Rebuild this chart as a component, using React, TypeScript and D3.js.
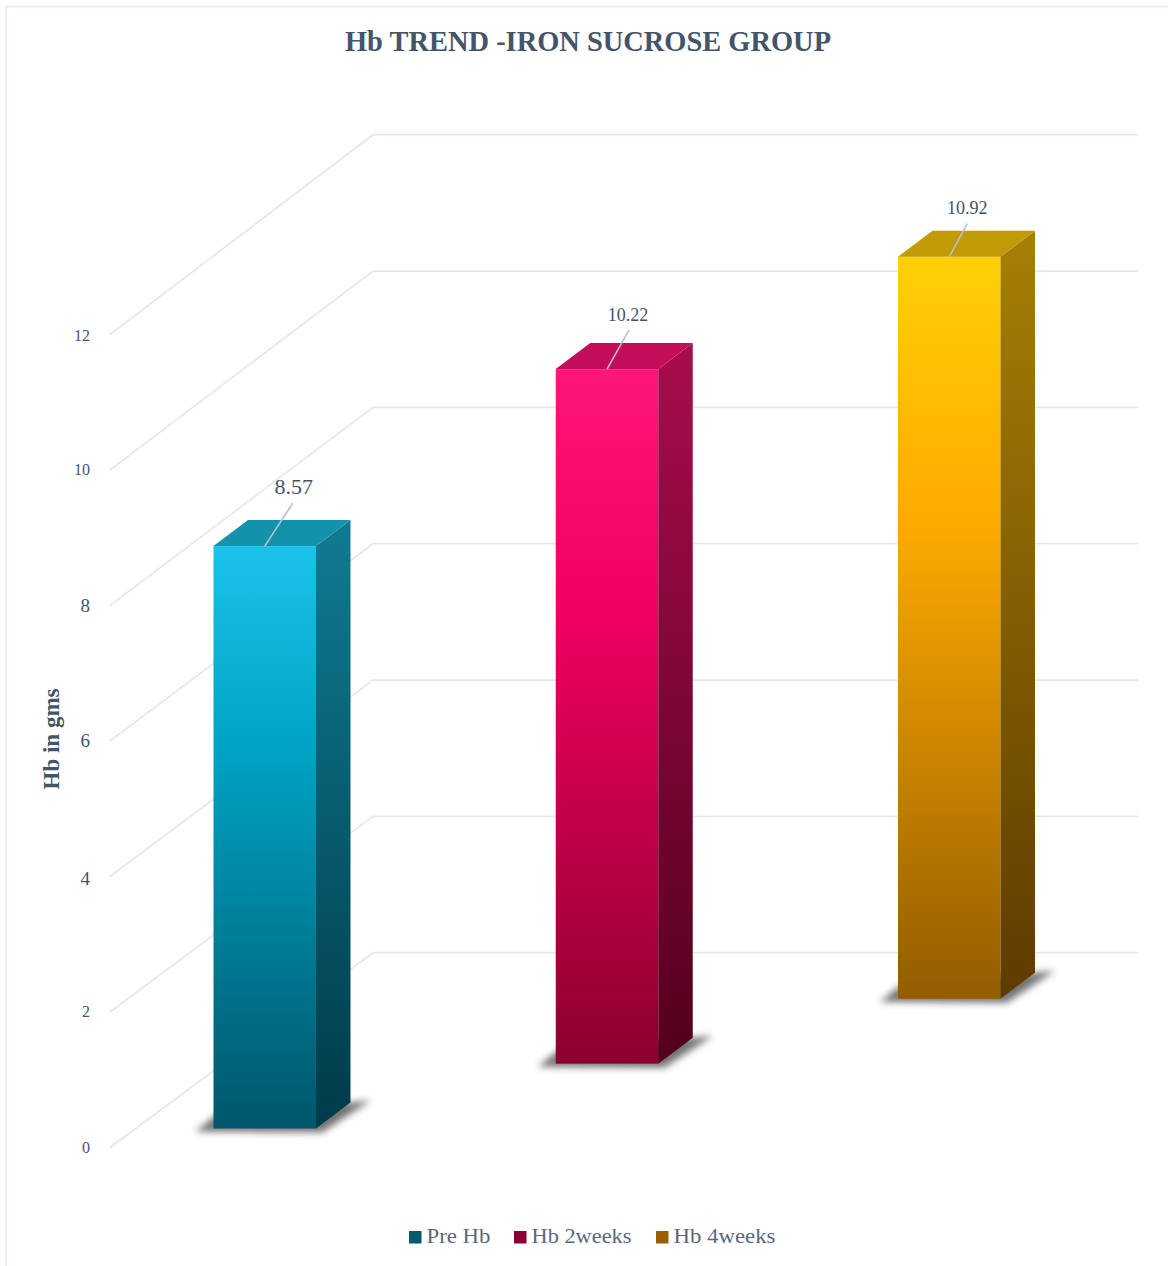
import React from "react";
import * as d3 from "d3";

const seriesNames = ["Pre Hb", "Hb 2weeks", "Hb 4weeks"];
const seriesValues = [8.57, 10.22, 10.92];
const valueLabels = ["8.57", "10.22", "10.92"];
const axisTicks = [0, 2, 4, 6, 8, 10, 12];
const legendColors = ["#005b6e", "#8a0030", "#996000"];
const frontStops = [
  ["#1bc2e8", "#00a3c4", "#00566a"],
  ["#ff1679", "#f00060", "#8c002f"],
  ["#ffd005", "#ffab00", "#945c00"],
];
const sideStops = [
  ["#107b92", "#003b49"],
  ["#a90c4e", "#52001e"],
  ["#a68006", "#5e3b00"],
];
const topColors = ["#1392ac", "#c40d59", "#c09b05"];

const FONT = "'Liberation Serif', serif";
const INK = "#44546a";
const DEPTH_X = 34.5;
const DEPTH_Y = -26;
const BAR_W = 102.5;

// Wall gridlines: front ends run down the left, back ends along the rear wall.
const frontY = d3.scaleLinear().domain([0, 12]).range([1147.5, 334.5]);
const backY = d3.scaleLinear().domain([0, 12]).range([952.7, 134.7]);
const barHeight = d3.scaleLinear().domain([0, 12]).range([0, 815.5]);
const barX = d3.scalePoint<string>().domain(seriesNames).range([213.5, 898]);
const barBase = d3.scalePoint<string>().domain(seriesNames).range([1128.5, 998.8]);

const tickLabelNudge: Record<number, number> = { 0: 0, 2: 0, 4: 3, 6: 1, 8: 1, 10: 0, 12: 1 };
const tickFontSize: Record<number, number> = { 0: 16, 2: 16, 4: 19, 6: 19, 8: 19, 10: 16, 12: 16 };
const labelStyle = [
  { size: 22, dx: 29, dy: -52, lx: 28, ly: -43 },
  { size: 18, dx: 21, dy: -48, lx: 22, ly: -39 },
  { size: 18, dx: 18, dy: -43, lx: 18, ly: -33 },
];
const legendX = [409, 514, 656];
const legendWidths = [64, 100, 102];

const poly = (pts: [number, number][]) => pts.map((p) => p.join(",")).join(" ");

export default function App() {
  return (
    <svg
      width={1168}
      height={1266}
      style={{ position: "absolute", left: 0, top: 0, background: "#fff" }}
      fontFamily={FONT}
    >
      <defs>
        <filter id="groundBlur" x="-30%" y="-80%" width="160%" height="260%">
          <feGaussianBlur stdDeviation="3.5" />
        </filter>
        {seriesNames.map((_, i) => (
          <React.Fragment key={i}>
            <linearGradient id={`front${i}`} x1="0" y1="0" x2="0" y2="1">
              <stop offset="0" stopColor={frontStops[i][0]} />
              <stop offset="0.35" stopColor={frontStops[i][1]} />
              <stop offset="1" stopColor={frontStops[i][2]} />
            </linearGradient>
            <linearGradient id={`side${i}`} x1="0" y1="0" x2="0" y2="1">
              <stop offset="0" stopColor={sideStops[i][0]} />
              <stop offset="1" stopColor={sideStops[i][1]} />
            </linearGradient>
          </React.Fragment>
        ))}
      </defs>

      <rect x={6} y={6.5} width={1200} height={1300} fill="#fff" stroke="#e4e7ed" strokeWidth={1.5} />

      <text x={588} y={51} textAnchor="middle" fontSize={30} fontWeight={700} fill={INK} textLength={486} lengthAdjust="spacingAndGlyphs">
        Hb TREND -IRON SUCROSE GROUP
      </text>

      {axisTicks.map((t) => (
        <g key={t}>
          <polyline
            points={poly([[110, frontY(t)], [373, backY(t)], [1138, backY(t)]])}
            fill="none"
            stroke="#e4e7ec"
            strokeWidth={1.7}
          />
          <text
            x={90}
            y={frontY(t) + tickLabelNudge[t] + 5}
            textAnchor="end"
            fontSize={tickFontSize[t]}
            fill={INK}
          >
            {t}
          </text>
        </g>
      ))}

      <text
        transform="translate(59,739) rotate(-90)"
        textAnchor="middle"
        fontSize={23}
        fontWeight={700}
        fill={INK}
      >
        Hb in gms
      </text>

      {seriesNames.map((name, i) => {
        const x = barX(name) as number;
        const base = barBase(name) as number;
        const top = base - barHeight(seriesValues[i]);
        const xr = x + BAR_W;
        const s = labelStyle[i];
        const cx = x + BAR_W / 2;
        return (
          <g key={name}>
            <polygon
              points={poly([
                [x - 18, base + 3],
                [x + 6, base - 16],
                [xr + DEPTH_X, base + DEPTH_Y],
                [xr + DEPTH_X + 20, base + DEPTH_Y - 2],
                [xr + 6, base + 4],
              ])}
              fill="#3c3c3c"
              opacity={0.72}
              filter="url(#groundBlur)"
            />
            <rect x={x} y={top} width={BAR_W} height={base - top} fill={`url(#front${i})`} />
            <polygon
              points={poly([[xr, top], [xr + DEPTH_X, top + DEPTH_Y], [xr + DEPTH_X, base + DEPTH_Y], [xr, base]])}
              fill={`url(#side${i})`}
            />
            <polygon
              points={poly([[x, top], [x + DEPTH_X, top + DEPTH_Y], [xr + DEPTH_X, top + DEPTH_Y], [xr, top]])}
              fill={topColors[i]}
            />
            <line x1={cx} y1={top} x2={cx + s.lx} y2={top + s.ly} stroke="#b9c0cb" strokeWidth={1.6} />
            <text x={cx + s.dx} y={top + s.dy} textAnchor="middle" fontSize={s.size} fill={INK}>
              {valueLabels[i]}
            </text>
          </g>
        );
      })}

      {seriesNames.map((name, i) => (
        <g key={name}>
          <rect x={legendX[i]} y={1231} width={12.5} height={12.5} fill={legendColors[i]} />
          <text
            x={legendX[i] + 17.5}
            y={1243}
            fontSize={21}
            fill="#5a677e"
            textLength={legendWidths[i]}
            lengthAdjust="spacingAndGlyphs"
          >
            {name}
          </text>
        </g>
      ))}
    </svg>
  );
}
